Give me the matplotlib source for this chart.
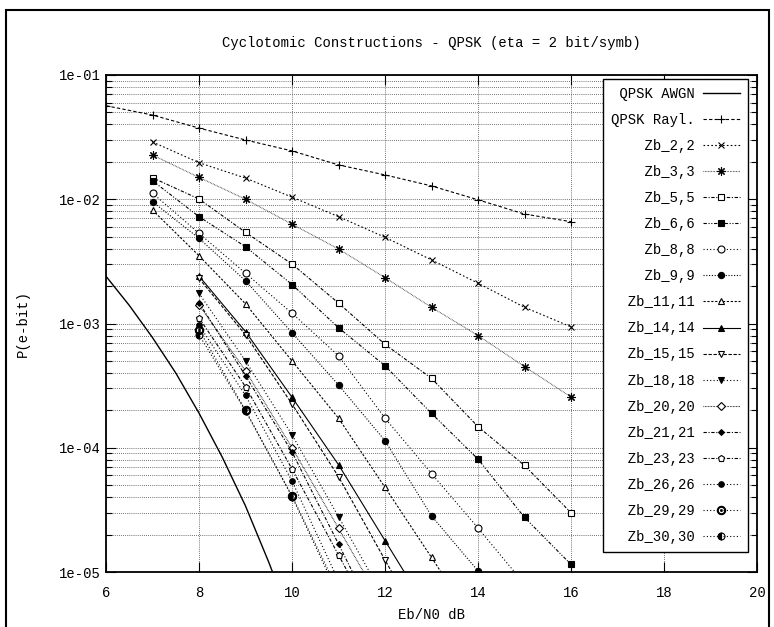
import matplotlib
matplotlib.use("Agg")
import matplotlib.pyplot as plt
from matplotlib.patches import Rectangle
from matplotlib.ticker import LogLocator, FixedLocator, NullFormatter

plt.rcParams['font.family'] = ['Liberation Mono', 'DejaVu Sans Mono']
plt.rcParams['font.size'] = 10

# ---- data ----
ebn0_awgn = [6.0, 6.5, 7.0, 7.5, 8.0, 8.5, 9.0, 9.5, 10.0]
ber_awgn = [2.4e-3, 1.4e-3, 7.7e-4, 4.0e-4, 1.9e-4, 8.4e-5, 3.4e-5, 1.2e-5, 3.9e-6]

ebn0_rayl = [6, 7, 8, 9, 10, 11, 12, 13, 14, 15, 16]
ber_rayl = [0.0566, 0.0476, 0.0374, 0.030, 0.0245, 0.0189, 0.0157, 0.0128, 0.0099, 0.0076, 0.0066]

ebn0_7_16 = [7, 8, 9, 10, 11, 12, 13, 14, 15, 16]
zb_2_2 = [0.0289, 0.0197, 0.0148, 0.0104, 0.00725, 0.00494, 0.00325, 0.00211, 0.00135, 0.00094]
zb_3_3 = [0.0227, 0.0150, 0.0100, 0.0063, 0.00398, 0.00234, 0.00135, 0.00080, 0.00045, 0.000256]
zb_5_5 = [0.0149, 0.01005, 0.00542, 0.00301, 0.00146, 0.00068, 0.000362, 0.000148, 7.2e-5, 3.0e-5]
zb_6_6 = [0.0141, 0.00724, 0.00415, 0.00206, 0.000925, 0.000457, 0.000189, 8.1e-5, 2.75e-5, 1.15e-5]

ebn0_7_15 = [7, 8, 9, 10, 11, 12, 13, 14, 15]
zb_8_8 = [0.0112, 0.00532, 0.00254, 0.00121, 0.00055, 0.000173, 6.2e-5, 2.26e-5, 8e-6]
zb_9_9 = [0.00955, 0.00485, 0.00221, 0.000843, 0.00032, 0.000114, 2.83e-5, 1.02e-5, 4e-6]

ebn0_7_14 = [7, 8, 9, 10, 11, 12, 13, 14]
zb_11_11 = [0.00818, 0.00351, 0.00144, 0.0005, 0.000173, 4.8e-5, 1.31e-5, 3.5e-6]

ebn0_8_13 = [8, 9, 10, 11, 12, 13]
zb_14_14 = [0.00241, 0.00086, 0.000255, 7.3e-5, 1.79e-5, 4.4e-6]
zb_15_15 = [0.00231, 0.00081, 0.000225, 5.85e-5, 1.25e-5, 2.7e-6]

ebn0_8_12 = [8, 9, 10, 11, 12]
zb_18_18 = [0.00175, 0.0005, 0.000127, 2.79e-5, 6e-6]
zb_20_20 = [0.00141, 0.000417, 0.0001, 2.25e-5, 5e-6]
zb_21_21 = [0.00147, 0.00038, 9.25e-5, 1.68e-5, 3e-6]
zb_23_23 = [0.00111, 0.00031, 6.75e-5, 1.37e-5, 2.8e-6]

ebn0_8_11 = [8, 9, 10, 11]
zb_26_26 = [0.00097, 0.000264, 5.4e-5, 8.5e-6]
zb_29_29 = [0.00089, 0.0002, 4.1e-5, 7e-6]
zb_30_30 = [0.00081, 0.000198, 4.05e-5, 6.5e-6]

x_ticks = [6, 8, 10, 12, 14, 16, 18, 20]
y_ticks = [1e-5, 1e-4, 1e-3, 1e-2, 1e-1]
y_ticklabels = ['1e-05', '1e-04', '1e-03', '1e-02', '1e-01']

series = [
    ('QPSK AWGN', ebn0_awgn, ber_awgn),
    ('QPSK Rayl.', ebn0_rayl, ber_rayl),
    ('Zb_2,2', ebn0_7_16, zb_2_2),
    ('Zb_3,3', ebn0_7_16, zb_3_3),
    ('Zb_5,5', ebn0_7_16, zb_5_5),
    ('Zb_6,6', ebn0_7_16, zb_6_6),
    ('Zb_8,8', ebn0_7_15, zb_8_8),
    ('Zb_9,9', ebn0_7_15, zb_9_9),
    ('Zb_11,11', ebn0_7_14, zb_11_11),
    ('Zb_14,14', ebn0_8_13, zb_14_14),
    ('Zb_15,15', ebn0_8_13, zb_15_15),
    ('Zb_18,18', ebn0_8_12, zb_18_18),
    ('Zb_20,20', ebn0_8_12, zb_20_20),
    ('Zb_21,21', ebn0_8_12, zb_21_21),
    ('Zb_23,23', ebn0_8_12, zb_23_23),
    ('Zb_26,26', ebn0_8_11, zb_26_26),
    ('Zb_29,29', ebn0_8_11, zb_29_29),
    ('Zb_30,30', ebn0_8_11, zb_30_30),
]

# line / marker style per series (gnuplot-like)
dash_dot = (0, (3, 1.5, 1, 1.5))
styles = [
    dict(ls='-', marker=None, lw=1.0),
    dict(ls=(0, (3, 2)), marker='+', ms=6),
    dict(ls=(0, (1.5, 2)), marker='x', ms=4.5),
    dict(ls=(0, (0.6, 0.8)), marker=(8, 2, 0), ms=6, color='#333333'),
    dict(ls=dash_dot, marker='s', ms=5, mfc='white'),
    dict(ls=(0, (3, 1.5, 1, 1.5, 1, 1.5)), marker='s', ms=5),
    dict(ls=(0, (1, 2)), marker='o', ms=5, mfc='white'),
    dict(ls=(0, (1, 1.5)), marker='o', ms=4.5),
    dict(ls=(0, (2, 1.5)), marker='^', ms=5, mfc='white'),
    dict(ls='-', marker='^', ms=4),
    dict(ls=(0, (3, 1.5)), marker='v', ms=5, mfc='white'),
    dict(ls=(0, (1, 2)), marker='v', ms=4),
    dict(ls=(0, (0.6, 0.8)), marker='D', ms=3.8, mfc='white'),
    dict(ls=dash_dot, marker='D', ms=3),
    dict(ls=dash_dot, marker='p', ms=4.5, mfc='white'),
    dict(ls=(0, (1, 2)), marker='o', ms=4),
    dict(ls=(0, (1, 2)), marker='$\\odot$', ms=6),
    dict(ls=(0, (1, 2)), marker='o', ms=5, fillstyle='left'),
]

fig = plt.figure(figsize=(7.74, 6.27), dpi=100)
ax = fig.add_axes([106 / 774, 1 - 572 / 627, 651 / 774, 497 / 627])

width = max(len(s[0]) for s in series)
for (label, xs, ys), st in zip(series, styles):
    st = dict(st)
    color = st.pop('color', 'black')
    lw = st.pop('lw', 0.8)
    ls = st.pop('ls')
    # monospace font: pad with spaces so labels sit right-aligned in the key
    ax.plot(xs, ys, linestyle=ls, color=color, lw=lw, mec='black',
            mew=0.8, label=label.rjust(width), **st)

ax.set_yscale('log')
ax.set_xlim(6, 20)
ax.set_ylim(1e-5, 1e-1)
ax.xaxis.set_major_locator(FixedLocator(x_ticks))
ax.set_xticklabels([str(t) for t in x_ticks])
ax.yaxis.set_major_locator(FixedLocator(y_ticks))
ax.set_yticklabels(y_ticklabels)
ax.yaxis.set_minor_locator(LogLocator(base=10, subs=range(2, 10)))
ax.yaxis.set_minor_formatter(NullFormatter())

ax.grid(True, which='both', axis='y', color='#444444', lw=0.6, ls=(0, (1, 1.5)))
ax.grid(True, which='major', axis='x', color='#444444', lw=0.6, ls=(0, (1, 1.5)))

ax.tick_params(which='both', direction='in', top=True, right=True, labelsize=10)
ax.tick_params(which='major', length=7, width=0.8)
ax.tick_params(which='minor', length=4, width=0.8)
ax.tick_params(axis='x', pad=10)
for sp in ax.spines.values():
    sp.set_linewidth(1.3)

ax.set_title('Cyclotomic Constructions - QPSK (eta = 2 bit/symb)', fontsize=10, pad=20)
ax.set_xlabel('Eb/N0 dB')
ax.set_ylabel('P(e-bit)')
ax.xaxis.set_label_coords(0.5, -0.072)
ax.yaxis.set_label_coords(-0.117, 0.5)

leg = ax.legend(loc='upper right', bbox_to_anchor=(0.986, 0.992), markerfirst=False,
                frameon=True, fancybox=False, framealpha=1, edgecolor='black',
                handlelength=2.7, handletextpad=0.6, labelspacing=0.87,
                borderpad=0.55, borderaxespad=0, fontsize=10)
leg.get_frame().set_linewidth(1.0)

# outer frame like the gnuplot canvas border
fig.add_artist(Rectangle((6 / 774, -0.01), 763 / 774, 1 - 10 / 627 + 0.01,
                         transform=fig.transFigure, fill=False, lw=1.5, color='black'))

fig.savefig('out.png', dpi=100)
